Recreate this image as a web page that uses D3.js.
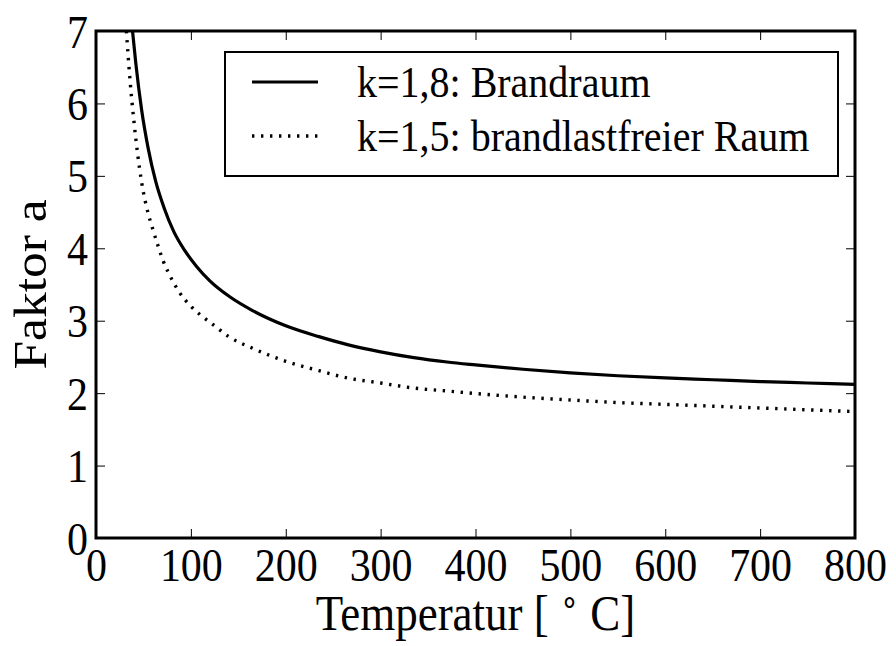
<!DOCTYPE html>
<html>
<head>
<meta charset="utf-8">
<script src="https://cdn.jsdelivr.net/npm/d3@7"></script>
<style>
  html, body { margin: 0; padding: 0; background: #fff; }
  svg { display: block; }
  text { font-family: "Liberation Serif", "Times New Roman", serif; fill: #000; }
</style>
</head>
<body>
<svg id="chart" width="896" height="646"></svg>
<script>
// Temperature axis ticks and value ticks
const xTicks = [0, 100, 200, 300, 400, 500, 600, 700, 800];
const yTicks = [0, 1, 2, 3, 4, 5, 6, 7];

// Series labels
const seriesNames = ["k=1,8: Brandraum", "k=1,5: brandlastfreier Raum"];

// Temperatur [°C] and Faktor a for each series
const tempBrandraum = [38.5, 42, 48, 55, 63, 72, 82, 94, 106, 120, 141, 165, 200, 235, 265, 300, 335, 370, 400, 450, 500, 550, 600, 650, 700, 750, 800];
const faktorBrandraum = [7.0, 6.55, 5.92, 5.38, 4.92, 4.55, 4.23, 3.96, 3.75, 3.55, 3.33, 3.14, 2.93, 2.78, 2.67, 2.57, 2.49, 2.43, 2.39, 2.33, 2.28, 2.24, 2.21, 2.185, 2.16, 2.14, 2.12];

const tempFrei = [32, 36, 40, 48, 55, 59, 65, 71, 80, 88, 100, 110, 125, 140, 165, 200, 235, 265, 300, 335, 370, 400, 450, 500, 550, 600, 650, 700, 750, 800];
const faktorFrei = [7.0, 6.3, 5.75, 4.92, 4.48, 4.30, 4.05, 3.82, 3.57, 3.39, 3.20, 3.08, 2.93, 2.78, 2.62, 2.44, 2.31, 2.21, 2.14, 2.07, 2.03, 1.995, 1.945, 1.905, 1.87, 1.845, 1.82, 1.795, 1.77, 1.745];

const svg = d3.select("#chart");
const plot = { left: 96, right: 855, top: 31, bottom: 538 };
const stretch = 1.12;   // tall, narrow lettering
const dotted = "2.4,6.6";

const x = d3.scaleLinear().domain([0, 800]).range([plot.left, plot.right]);
const y = d3.scaleLinear().domain([0, 7]).range([plot.bottom, plot.top]);

svg.append("defs").append("clipPath").attr("id", "plotClip")
  .append("rect")
  .attr("x", plot.left).attr("y", plot.top)
  .attr("width", plot.right - plot.left).attr("height", plot.bottom - plot.top);

const line = d3.line().x(d => x(d[0])).y(d => y(d[1])).curve(d3.curveMonotoneX);

const seriesA = d3.zip(tempBrandraum, faktorBrandraum);
const seriesB = d3.zip(tempFrei, faktorFrei);

const g = svg.append("g").attr("clip-path", "url(#plotClip)");
g.append("path").datum(seriesA).attr("d", line)
  .attr("fill", "none").attr("stroke", "#000").attr("stroke-width", 3.2);
g.append("path").datum(seriesB).attr("d", line)
  .attr("fill", "none").attr("stroke", "#000").attr("stroke-width", 3.4)
  .attr("stroke-dasharray", dotted);

// Inward ticks on all four sides
const tickLen = 9;
const axisBottom = d3.axisBottom(x).tickValues(xTicks).tickSizeInner(-tickLen).tickSizeOuter(0).tickPadding(9).tickFormat(d3.format("d"));
const axisTop = d3.axisTop(x).tickValues(xTicks).tickSizeInner(-tickLen).tickSizeOuter(0).tickFormat("");
const axisLeft = d3.axisLeft(y).tickValues(yTicks).tickSizeInner(-tickLen).tickSizeOuter(0).tickPadding(8).tickFormat(d3.format("d"));
const axisRight = d3.axisRight(y).tickValues(yTicks).tickSizeInner(-tickLen).tickSizeOuter(0).tickFormat("");

function styleAxis(sel) {
  sel.select(".domain").remove();
  sel.selectAll(".tick line").attr("stroke", "#000").attr("stroke-width", 1);
  sel.selectAll(".tick text")
    .style("font-family", '"Liberation Serif", "Times New Roman", serif')
    .attr("fill", "#000")
    .attr("font-size", 42)
    .attr("transform", `scale(1,${stretch})`);
}

svg.append("g").attr("transform", `translate(0,${plot.bottom})`).call(axisBottom).call(styleAxis);
svg.append("g").attr("transform", `translate(0,${plot.top})`).call(axisTop).call(styleAxis);
svg.append("g").attr("transform", `translate(${plot.left},0)`).call(axisLeft).call(styleAxis)
  .selectAll(".tick text").attr("dy", "0.34em");
svg.append("g").attr("transform", `translate(${plot.right},0)`).call(axisRight).call(styleAxis);

// Frame
svg.append("rect")
  .attr("x", plot.left).attr("y", plot.top)
  .attr("width", plot.right - plot.left).attr("height", plot.bottom - plot.top)
  .attr("fill", "none").attr("stroke", "#000").attr("stroke-width", 3);

// Axis titles
svg.append("text")
  .attr("transform", `translate(46,${(plot.top + plot.bottom) / 2}) scale(1,${stretch}) rotate(-90)`)
  .attr("text-anchor", "middle")
  .attr("font-size", 46)
  .text("Faktor a");

const xt = svg.append("text")
  .attr("transform", `translate(${(plot.left + plot.right) / 2},630) scale(1,${stretch})`)
  .attr("text-anchor", "middle")
  .attr("font-size", 45);
xt.append("tspan").text("Temperatur [ ");
xt.append("tspan").attr("font-size", 30).attr("dy", -15).text("\u2218");
xt.append("tspan").attr("dy", 15).text(" C]");

// Legend
const legend = svg.append("g");
legend.append("rect")
  .attr("x", 225).attr("y", 52).attr("width", 613).attr("height", 124)
  .attr("fill", "#fff").attr("stroke", "#000").attr("stroke-width", 2);
const rows = [
  { name: seriesNames[0], y: 82, dash: null, w: 3.2 },
  { name: seriesNames[1], y: 136, dash: dotted, w: 3.4 }
];
rows.forEach(r => {
  legend.append("line")
    .attr("x1", 252).attr("x2", 318).attr("y1", r.y).attr("y2", r.y)
    .attr("stroke", "#000").attr("stroke-width", r.w)
    .attr("stroke-dasharray", r.dash);
  legend.append("text")
    .attr("transform", `translate(357,${r.y + 15}) scale(1,${stretch})`)
    .attr("font-size", 40)
    .text(r.name);
});
</script>
</body>
</html>
